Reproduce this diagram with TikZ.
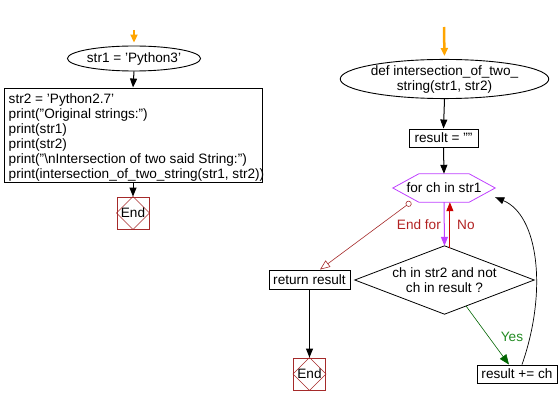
\documentclass[tikz,border=0pt]{standalone}
\usepackage{fontspec}
\setmainfont{Liberation Sans}
\usetikzlibrary{arrows.meta,shapes.geometric,calc}
\definecolor{startorange}{HTML}{FFA500}
\definecolor{loopviolet}{HTML}{BF40FF}
\definecolor{endbrown}{HTML}{A52A2A}
\definecolor{noline}{HTML}{CC0000}
\definecolor{notext}{HTML}{B22222}
\definecolor{yesline}{HTML}{006400}
\definecolor{yestext}{HTML}{228B22}
\tikzset{
  every node/.style={font=\fontsize{13.6}{15}\selectfont, inner sep=0pt},
  procbox/.style={draw, line width=0.9pt, rectangle},
  termell/.style={draw, line width=0.9pt, ellipse},
  endbox/.style={draw=endbrown, line width=0.9pt, rectangle, minimum width=32pt, minimum height=32pt},
  flow/.style={line width=1pt, -{Triangle[length=9pt,width=7pt]}},
  startarrow/.style={startorange, line width=2.5pt, -{Triangle[length=8pt,width=7pt]}, shorten >=3pt},
}
\begin{document}
\begin{tikzpicture}[x=1pt,y=-1pt]
\useasboundingbox (0,0) rectangle (559,406);
% ---------- left flow ----------
\node[termell, minimum width=108pt, minimum height=25pt] (s1) at (134,58.5) {str1 = 'Python3'};
\coordinate (o1) at (134,30);
\node[procbox, minimum width=258pt, minimum height=94pt] (main) at (133,135) {};
\node[anchor=west, align=left] (maintext) at ([xshift=5pt,yshift=-2pt]main.west)
  {str2 = 'Python2.7'\\
   print("Original strings:")\\
   print(str1)\\
   print(str2)\\
   print("\textbackslash nIntersection of two said String:")\\
   print(intersection\_of\_two\_string(str1, str2))};
\node[endbox] (e1) at (133,213) {End};
\draw[endbrown, line width=0.6pt] (e1.north) -- (e1.east) -- (e1.south) -- (e1.west) -- cycle;
\draw[startarrow] (o1) -- (s1.north);
\draw[flow] (s1.south) -- (main.north);
\draw[flow] (main.south) -- (e1.north);
% ---------- right flow ----------
\node[termell, minimum width=163pt, minimum height=33pt, align=center] (def) at (444.5,79)
  {def intersection\_of\_two\_\\string(str1, str2)};
\coordinate (o2) at (444,27);
\node[procbox, minimum width=69pt, minimum height=18pt] (init) at (443.5,138) {result = ""};
\node[minimum width=102pt, minimum height=28pt] (loop) at (444,188) {for ch in str1};
\draw[loopviolet, line width=0.8pt] (loop.west) -- ([xshift=26pt]loop.north west) -- ([xshift=-26pt]loop.north east)
  -- (loop.east) -- ([xshift=-26pt]loop.south east) -- ([xshift=26pt]loop.south west) -- cycle;
\node[minimum width=179pt, minimum height=68pt, align=center] (dec) at (444.5,280)
  {ch in str2 and not\\ch in result ?};
\draw[line width=0.8pt] (dec.west) -- (dec.north) -- (dec.east) -- (dec.south) -- cycle;
\node[procbox, minimum width=81pt, minimum height=19pt] (ret) at (309.5,279.5) {return result};
\node[endbox] (e2) at (309.5,374) {End};
\draw[endbrown, line width=0.6pt] (e2.north) -- (e2.east) -- (e2.south) -- (e2.west) -- cycle;
\node[procbox, minimum width=80pt, minimum height=18pt] (acc) at (517,374) {result += ch};
% connectors
\draw[startarrow] (o2) -- (def.north);
\draw[flow] (def.south) -- (init.north);
\draw[flow] (init.south) -- (loop.north);
\draw[loopviolet, line width=1pt, -{Triangle[length=9pt,width=7pt]}] (loop.south) -- (dec.north);
\coordinate (noStart) at ($(dec.north)!0.06!(dec.east)$);
\draw[noline, line width=1pt, -{Triangle[length=9pt,width=7pt]}] (noStart) -- (noStart |- loop.south);
\node[text=notext, anchor=east] (endforlbl) at (441,225) {End for};
\node[text=notext, anchor=west] (nolbl) at (457,225) {No};
\coordinate (exitStart) at (411,202);
\draw[endbrown, line width=0.6pt, {Circle[open,length=6pt,width=6pt]}-{Triangle[open,length=10pt,width=8pt]}] (exitStart) -- ([xshift=10.5pt]ret.north);
\draw[flow] (ret.south) -- (e2.north);
\coordinate (yesStart) at ($(dec.south)!0.24!(dec.east)$);
\draw[yesline, line width=0.6pt, -{Triangle[length=10pt,width=8pt]}] (yesStart) -- ([xshift=-8pt]acc.north);
\node[text=yestext] (yeslbl) at (512,337) {Yes};
\draw[line width=0.7pt, -{Triangle[length=9pt,width=7pt]}] ([xshift=5pt]acc.north) .. controls (548,290) and (538,215) .. ($(loop.south east)!0.35!(loop.east)$);
\end{tikzpicture}
\end{document}
